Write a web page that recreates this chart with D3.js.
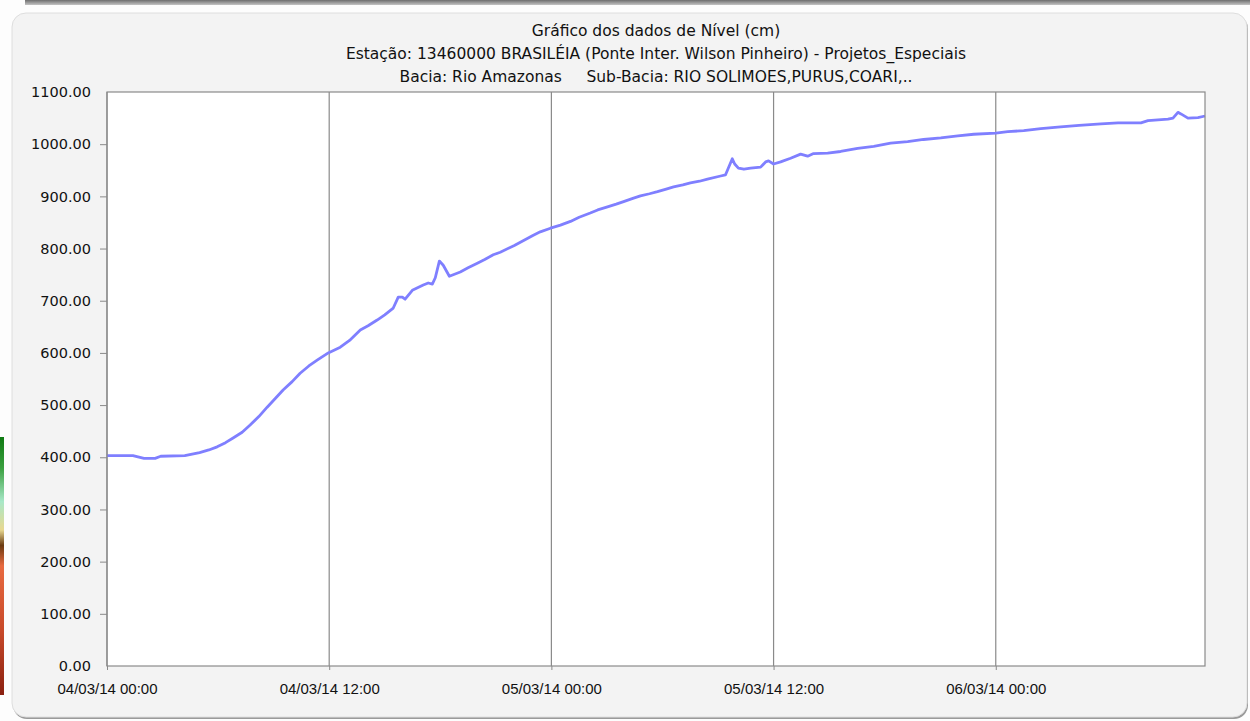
<!DOCTYPE html>
<html>
<head>
<meta charset="utf-8">
<script src="https://cdn.jsdelivr.net/npm/d3@7"></script>
<style>
  body { margin: 0; background: #fdfdfd; }
  svg { display: block; font-family: "DejaVu Sans", sans-serif; }
</style>
</head>
<body>
<div class="chart"></div>
<script>
// chart text
var titleLines = [
	"Gráfico dos dados de Nível (cm)",
	"Estação: 13460000 BRASILÉIA (Ponte Inter. Wilson Pinheiro) - Projetos_Especiais",
	"Bacia: Rio Amazonas     Sub-Bacia: RIO SOLIMOES,PURUS,COARI,.."
];
var startTime = "2014-03-04 00:00";

// hours after start of series
var hours = [0, 1, 1.4, 2, 2.6, 2.9, 4.2, 5, 5.5, 5.95, 6.4, 6.81, 7.3, 7.73, 8.2, 8.65, 9.1, 9.51,
	10, 10.43, 10.9, 11.35, 11.95, 12.6, 13.1, 13.68, 14.1, 14.59, 15, 15.46, 15.73, 15.95, 16.1,
	16.49, 17.08, 17.35, 17.57, 17.73, 17.95, 18.16, 18.49, 19.08, 19.5, 20, 20.4, 20.86, 21.24,
	22, 23, 23.4, 23.95, 24.49, 25.03, 25.5, 26.1, 26.5, 27.03, 27.5, 27.9, 28.4, 28.81, 29.3,
	29.73, 30.2, 30.6, 31.1, 31.51, 32, 32.43, 33.14, 33.4, 33.77, 33.9, 34.1, 34.4, 34.76, 35.3,
	35.57, 35.73, 36, 36.38, 36.92, 37.46, 37.84, 38.16, 38.92, 39.62, 40.54, 41.41, 42.32, 43.24,
	44.1, 45.03, 45.95, 46.81, 48, 48.65, 49.51, 50.43, 51.5, 52.5, 53.68, 54.6, 55.84, 56.22,
	57.3, 57.57, 57.84, 58, 58.38, 58.92, 59.3];

// nivel (cm)
var levels = [403, 403, 403, 398, 398, 402, 403, 409, 414, 420, 428, 437, 448, 462, 478, 496, 513, 529,
	545, 561, 575, 586, 600, 611, 624, 644, 652, 663, 673, 686, 707, 707, 703,
	720, 730, 734, 732, 744, 776, 768, 747, 755, 763, 772, 779, 788, 793,
	806, 825, 832, 839, 845, 852, 860, 868, 874, 880, 885, 890, 896, 901, 905,
	909, 914, 918, 922, 926, 929, 933, 939, 941, 972, 962, 954, 952, 954, 956,
	966, 968, 962, 966, 973, 981, 977, 982, 983, 986, 992, 996, 1002, 1005,
	1009, 1012, 1016, 1019, 1021, 1024, 1026, 1030, 1033, 1036, 1039, 1041, 1041, 1045,
	1048, 1050, 1061, 1058, 1050, 1051, 1054];

var yTicks = [0, 100, 200, 300, 400, 500, 600, 700, 800, 900, 1000, 1100];

var width = 1250, height = 721;
var plotLeft = 107, plotRight = 1205, plotTop = 92, plotBottom = 666;

var t0 = d3.utcParse("%Y-%m-%d %H:%M")(startTime);
var data = hours.map(function(h, i) {
	return { date: new Date(t0.getTime() + h * 3600e3), value: levels[i] };
});

var svg = d3.select(".chart").append("svg")
	.attr("width", width)
	.attr("height", height);

var defs = svg.append("defs");
var topGrad = defs.append("linearGradient").attr("id", "topbar")
	.attr("x1", 0).attr("y1", 0).attr("x2", 0).attr("y2", 1);
topGrad.append("stop").attr("offset", 0).attr("stop-color", "#6e6e6e");
topGrad.append("stop").attr("offset", 1).attr("stop-color", "#c4c4c4");

var sideGrad = defs.append("linearGradient").attr("id", "sidebar")
	.attr("x1", 0).attr("y1", 0).attr("x2", 0).attr("y2", 1);
[[0, "#0f7a12"], [0.12, "#3aa040"], [0.25, "#a8e8c8"], [0.36, "#e8d890"], [0.42, "#6a3a10"],
 [0.5, "#e86a40"], [0.75, "#c84a2a"], [1, "#8a2010"]].forEach(function(s) {
	sideGrad.append("stop").attr("offset", s[0]).attr("stop-color", s[1]);
});

// window bits behind the panel
svg.append("rect").attr("x", 25).attr("y", 0).attr("width", 1225).attr("height", 5)
	.attr("fill", "url(#topbar)");
svg.append("rect").attr("x", 0).attr("y", 437).attr("width", 4).attr("height", 258)
	.attr("fill", "url(#sidebar)");

// panel
svg.append("rect").attr("x", 13).attr("y", 15).attr("width", 1235).attr("height", 704)
	.attr("rx", 14).attr("fill", "#9a9a9a");
svg.append("rect").attr("x", 12).attr("y", 13).attr("width", 1235).attr("height", 704)
	.attr("rx", 14).attr("fill", "#f3f3f3").attr("stroke", "#dedede");

var x = d3.scaleUtc()
	.domain(d3.extent(data, function(d) { return d.date; }))
	.range([plotLeft, plotRight]);

var y = d3.scaleLinear()
	.domain([0, 1100])
	.range([plotBottom, plotTop]);

svg.append("rect")
	.attr("x", plotLeft).attr("y", plotTop)
	.attr("width", plotRight - plotLeft).attr("height", plotBottom - plotTop)
	.attr("fill", "#fff");

// titles
svg.append("g").selectAll("text")
	.data(titleLines)
	.enter()
	.append("text")
	.attr("x", (plotLeft + plotRight) / 2)
	.attr("y", function(d, i) { return 36 + i * 23; })
	.attr("text-anchor", "middle")
	.attr("font-size", "15.5px")
	.attr("fill", "#111")
	.style("white-space", "pre")
	.text(function(d) { return d; });

// vertical grid
var xTicks = x.ticks(d3.utcHour.every(12));
svg.append("g").selectAll("line")
	.data(xTicks)
	.enter()
	.append("line")
	.attr("x1", function(d) { return x(d); })
	.attr("x2", function(d) { return x(d); })
	.attr("y1", plotTop)
	.attr("y2", plotBottom)
	.attr("stroke", "#8a8a8a")
	.attr("stroke-width", 1.2);

var yAxis = svg.append("g")
	.attr("transform", "translate(" + plotLeft + ",0)")
	.call(d3.axisLeft(y).tickValues(yTicks).tickFormat(d3.format(".2f"))
		.tickSizeInner(7).tickSizeOuter(0).tickPadding(9));
yAxis.select(".domain").remove();
yAxis.selectAll(".tick line")
	.attr("stroke", "#8a8a8a")
	.filter(function(d) { return d === 0 || d === 1100; }).remove();
yAxis.selectAll(".tick text")
	.attr("font-size", "14.5px")
	.attr("font-family", "DejaVu Sans, sans-serif")
	.attr("fill", "#111");

var xAxis = svg.append("g")
	.attr("transform", "translate(0," + plotBottom + ")")
	.call(d3.axisBottom(x).tickValues(xTicks).tickFormat(d3.utcFormat("%d/%m/%y %H:%M"))
		.tickSizeInner(4).tickSizeOuter(0).tickPadding(13));
xAxis.select(".domain").remove();
xAxis.selectAll(".tick line").attr("stroke", "#8a8a8a");
xAxis.selectAll(".tick text")
	.attr("font-size", "15px")
	.attr("font-family", "Liberation Sans, Arial, sans-serif")
	.attr("fill", "#111");

var line = d3.line()
	.x(function(d) { return x(d.date); })
	.y(function(d) { return y(d.value); });

svg.append("path")
	.datum(data)
	.attr("d", line)
	.attr("fill", "none")
	.attr("stroke", "#7f7fff")
	.attr("stroke-width", 2.8)
	.attr("stroke-linejoin", "round");

// plot frame
svg.append("rect")
	.attr("x", plotLeft).attr("y", plotTop)
	.attr("width", plotRight - plotLeft).attr("height", plotBottom - plotTop)
	.attr("fill", "none")
	.attr("stroke", "#8a8a8a")
	.attr("stroke-width", 1.2);
</script>
</body>
</html>
